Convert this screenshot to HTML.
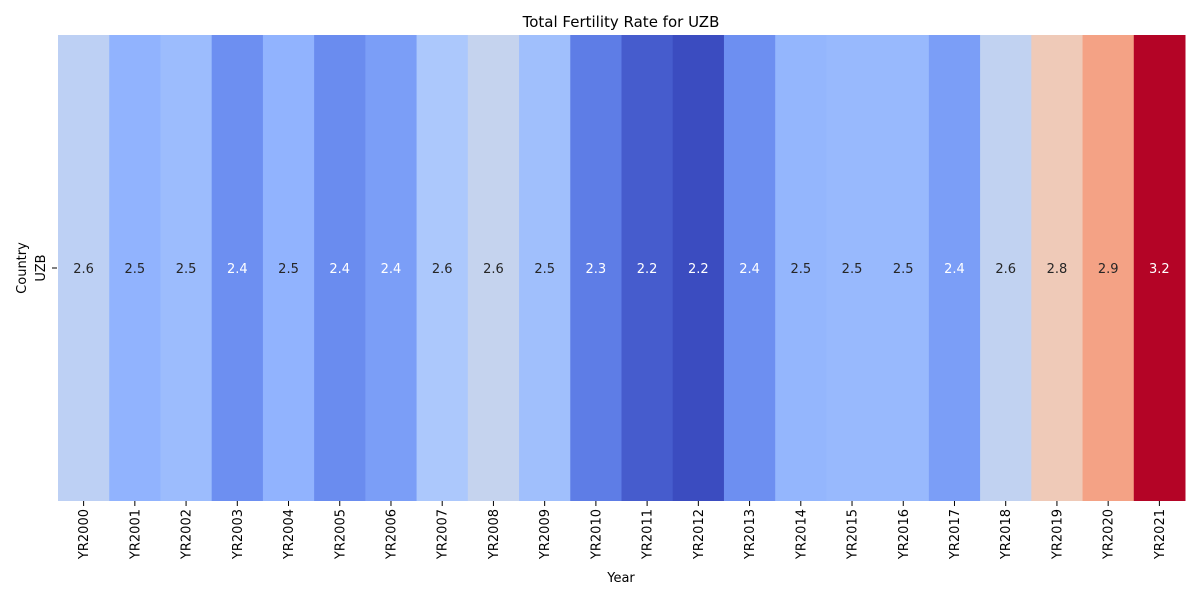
<!DOCTYPE html>
<html><head><meta charset="utf-8"><style>
html,body{margin:0;padding:0;background:#fff;}
svg{display:block;font-family:"DejaVu Sans","Liberation Sans",sans-serif;}
</style></head><body>
<svg id="chart" width="1200" height="600">
<text x="621" y="27" text-anchor="middle" font-size="15" fill="#000">Total Fertility Rate for UZB</text>
<text x="621" y="582" text-anchor="middle" font-size="13" fill="#000">Year</text>
<text transform="translate(26,268) rotate(-90)" text-anchor="middle" font-size="13" fill="#000">Country</text>
<text transform="translate(45,268) rotate(-90)" text-anchor="middle" font-size="13" fill="#000">UZB</text>
<line x1="52" y1="268" x2="57" y2="268" stroke="#000" stroke-width="1"/>
<g id="cells"></g>
</svg>
<script>
const years = ["YR2000","YR2001","YR2002","YR2003","YR2004","YR2005","YR2006","YR2007","YR2008","YR2009","YR2010","YR2011","YR2012","YR2013","YR2014","YR2015","YR2016","YR2017","YR2018","YR2019","YR2020","YR2021"];
const values = [2.61,2.50,2.53,2.40,2.50,2.39,2.44,2.57,2.63,2.54,2.345,2.245,2.20,2.40,2.51,2.52,2.52,2.44,2.62,2.76,2.86,3.17];
const vmin = 2.20, vmax = 3.17;

const stops = [[59,76,192],[82,110,220],[107,141,240],[141,176,254],[179,205,251],[221,220,220],[244,197,173],[244,154,123],[227,108,85],[196,48,50],[180,4,38]];
function cmap(t){
  t=Math.max(0,Math.min(1,t));
  const p=t*(stops.length-1), i=Math.min(Math.floor(p),stops.length-2), f=p-i;
  return stops[i].map((c,k)=>Math.round(c+(stops[i+1][k]-c)*f));
}
const X0=58, X1=1185, Y0=35, Y1=501;
const cw=(X1-X0)/years.length;
const xScale=i=>X0+i*cw;
const ns="http://www.w3.org/2000/svg";
const g=document.getElementById('cells');
const svg=document.getElementById('chart');
function lum(c){const l=c.map(v=>{v/=255;return v<=0.03928?v/12.92:Math.pow((v+0.055)/1.055,2.4);});return 0.2126*l[0]+0.7152*l[1]+0.0722*l[2];}
years.forEach((y,i)=>{
  const c=cmap((values[i]-vmin)/(vmax-vmin));
  const r=document.createElementNS(ns,'rect');
  r.setAttribute('x',xScale(i));r.setAttribute('y',Y0);
  r.setAttribute('width',cw+0.5);r.setAttribute('height',Y1-Y0);
  r.setAttribute('fill',`rgb(${c})`);
  
  
  g.appendChild(r);
  const t=document.createElementNS(ns,'text');
  t.setAttribute('x',xScale(i)+cw/2);t.setAttribute('y',273);
  t.setAttribute('text-anchor','middle');t.setAttribute('font-size','13');
  t.setAttribute('fill',lum(c)>0.408?'#262626':'#ffffff');
  t.textContent=values[i].toFixed(1);
  
  
  g.appendChild(t);
  const tk=document.createElementNS(ns,'line');
  tk.setAttribute('x1',xScale(i)+cw/2);tk.setAttribute('x2',xScale(i)+cw/2);
  tk.setAttribute('y1',Y1);tk.setAttribute('y2',Y1+5);tk.setAttribute('stroke','#000');
  
  
  svg.appendChild(tk);
  const lb=document.createElementNS(ns,'text');
  lb.setAttribute('transform',`translate(${xScale(i)+cw/2+4.5},509) rotate(-90)`);
  lb.setAttribute('text-anchor','end');lb.setAttribute('font-size','13');
  lb.textContent=y;
  
  
  svg.appendChild(lb);
});
</script>
</body></html>
